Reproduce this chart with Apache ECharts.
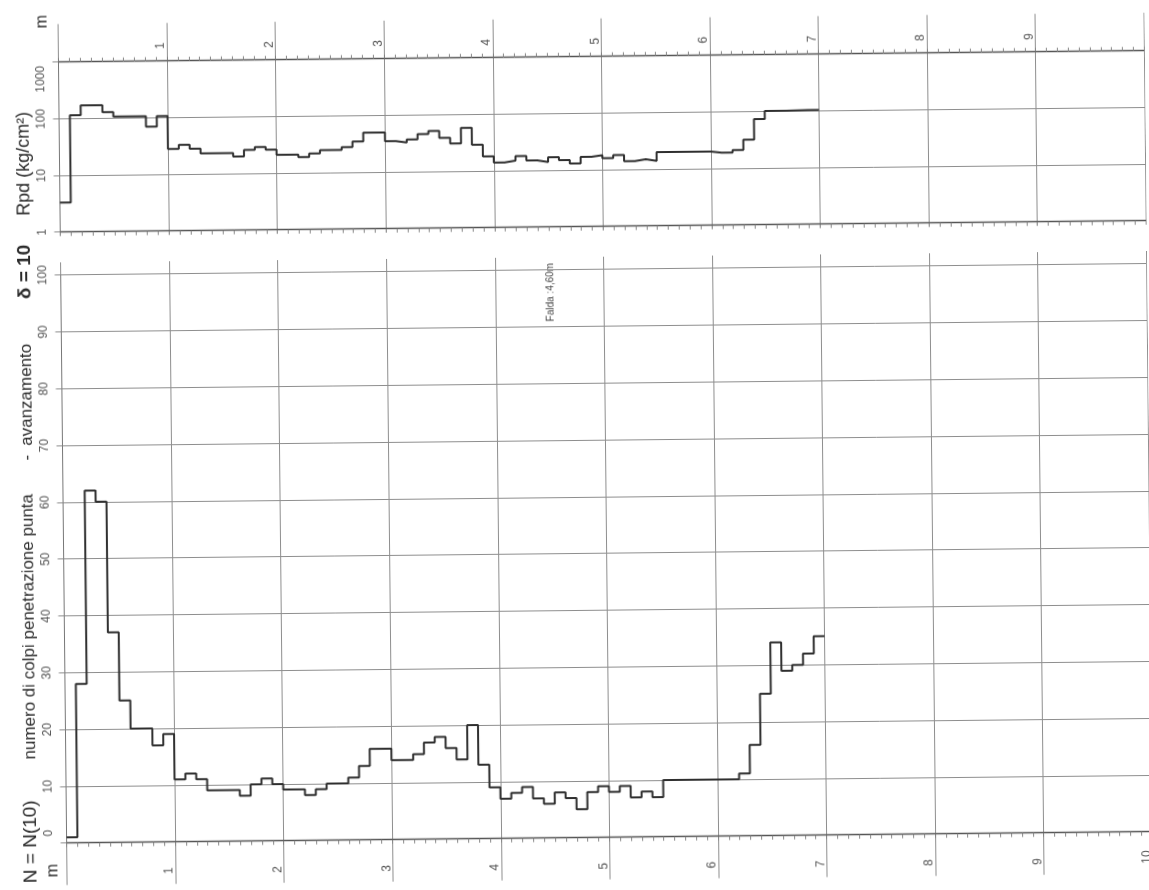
<!DOCTYPE html>
<html>
<head>
<meta charset="utf-8">
<title>Prova penetrometrica dinamica</title>
<script src="https://cdn.jsdelivr.net/npm/echarts@6/dist/echarts.min.js"></script>
<style>
html,body{margin:0;padding:0;background:#fff;}
#chart{width:1149px;height:890px;transform:rotate(-0.6deg);}
</style>
</head>
<body>
<div id="chart"></div>
<script>
// passo di lettura 0.1 m (avanzamento delta = 10 cm)
const stepM = 0.1
const depthRange = [0, 10]

// N(10) per ogni tratto da 0.0 a 7.0 m
const nBlows = [
  1, 28, 62, 60, 37, 25, 20, 20, 17, 19,
  11, 12, 11, 9, 9, 9, 8, 10, 11, 10,
  9, 9, 8, 9, 10, 10, 11, 13, 16, 16,
  14, 14, 15, 17, 18, 16, 14, 20, 13, 9,
  7, 8, 9, 7, 6, 8, 7, 5, 8, 9,
  8, 9, 7, 8, 7, 10, 10, 10, 10, 10,
  10, 10, 11, 16, 25, 34, 29, 30, 32, 35
]

// Rpd (kg/cm2) per ogni tratto
const rpd = [
  3.3, 115, 170, 170, 128, 107, 107, 107, 70, 107,
  28, 33, 28, 23, 23, 23, 20, 26, 29, 26,
  21, 21, 19, 22, 25, 25, 28, 35, 50, 50,
  35, 33, 37, 46, 52, 39, 31, 58, 29, 18,
  14, 15, 18, 15, 14, 17, 15, 13, 17, 18,
  16, 18, 14, 15, 14, 20, 20, 20, 20, 20,
  19, 19, 21, 32, 73, 102, 102, 103, 104, 104
]

const falda = 'Falda :4,60m'

function stepData(vals) {
  const pts = vals.map((v, i) => [+(i * stepM).toFixed(1), v])
  pts.push([+(vals.length * stepM).toFixed(1), vals[vals.length - 1]])
  return pts
}

const X0 = 62.5, W = 1085.7
const gridLine = {show: true, lineStyle: {color: '#8e8e8e', width: 1}}
const labelFont = {fontSize: 12, color: '#555', fontFamily: 'Liberation Sans'}

function depthAxis(gridIndex, extra) {
  return Object.assign({
    type: 'value', gridIndex: gridIndex, min: depthRange[0], max: depthRange[1], interval: 1,
    axisLine: {show: false}, axisTick: {show: false}, axisLabel: {show: false},
    splitLine: gridLine
  }, extra)
}

const baseLine = {show: true, onZero: false, lineStyle: {color: '#555', width: 1.3}}
const ticksOut = {show: true, length: 4, lineStyle: {color: '#777'}}
const minor = {show: true, splitNumber: 10, length: 4, lineStyle: {color: '#888'}}

function txt(x, y, text, size, extra) {
  return {
    type: 'text', x: x, y: y, rotation: Math.PI / 2, silent: true,
    style: Object.assign({
      text: text, fontSize: size, fontFamily: 'Liberation Sans', fill: '#2a2a2a',
      align: 'center', verticalAlign: 'middle'
    }, extra)
  }
}

const chart = echarts.init(document.getElementById('chart'))
chart.setOption({
  animation: false,
  backgroundColor: '#fff',
  grid: [
    {left: X0, top: 56.7, width: W, height: 170},    // Rpd
    {left: X0, top: 269.6, width: W, height: 568.1}, // N
    {left: X0, top: 18.7, width: W, height: 38},     // sopra Rpd
    {left: X0, top: 257, width: W, height: 12.6},    // sopra N
    {left: X0, top: 837.7, width: W, height: 42}     // sotto N
  ],
  xAxis: [
    depthAxis(0, {axisLine: baseLine, axisTick: ticksOut, minorTick: minor}),
    depthAxis(1, {axisLine: baseLine, axisTick: ticksOut, minorTick: minor}),
    depthAxis(2, {
      axisLine: baseLine,
      axisTick: {show: true, inside: true, length: 4, lineStyle: {color: '#777'}},
      minorTick: minor,
      axisLabel: Object.assign({
        show: true, inside: true, rotate: 90, margin: 12, verticalAlign: 'bottom',
        formatter: v => (v === 0 || v === 10) ? '' : String(v)
      }, labelFont)
    }),
    depthAxis(3, {}),
    depthAxis(4, {
      axisLabel: Object.assign({
        show: true, inside: true, rotate: 90, margin: 10, verticalAlign: 'bottom',
        formatter: v => v === 0 ? '' : String(v)
      }, labelFont)
    })
  ],
  yAxis: [
    {
      type: 'log', logBase: 10, gridIndex: 0, min: 1, max: 1000,
      axisLine: {show: true, lineStyle: {color: '#777'}},
      axisTick: {show: true, length: 6, lineStyle: {color: '#8e8e8e'}},
      axisLabel: Object.assign({
        rotate: 90, margin: 12,
        formatter: v => Math.round(v) === 1000 ? '{top|1000}' : String(Math.round(v)),
        rich: {top: {padding: [0, 34, 0, 0], fontSize: 12, color: '#555'}}
      }, labelFont),
      splitLine: gridLine
    },
    {
      type: 'value', gridIndex: 1, min: 0, max: 100, interval: 10,
      axisLine: {show: true, lineStyle: {color: '#777'}},
      axisTick: {show: true, length: 6, lineStyle: {color: '#8e8e8e'}},
      axisLabel: Object.assign({
        rotate: 90, margin: 12,
        formatter: v => v === 0 ? '{low|0}' : String(v),
        rich: {low: {padding: [0, 0, 0, 20], fontSize: 12, color: '#555'}}
      }, labelFont),
      splitLine: gridLine
    },
    {type: 'value', gridIndex: 2, show: false},
    {type: 'value', gridIndex: 3, show: false},
    {type: 'value', gridIndex: 4, show: false}
  ],
  series: [
    {
      type: 'line', xAxisIndex: 0, yAxisIndex: 0, step: 'end', symbol: 'none',
      data: stepData(rpd), lineStyle: {color: '#2f2f2f', width: 2}, z: 5
    },
    {
      type: 'line', xAxisIndex: 1, yAxisIndex: 1, step: 'end', symbol: 'none',
      data: stepData(nBlows), lineStyle: {color: '#2f2f2f', width: 2}, z: 5
    }
  ],
  graphic: [
    txt(27, 836, 'N = N(10)', 19),
    txt(27, 621, 'numero di colpi penetrazione punta', 17),
    txt(27, 452, '-', 17),
    txt(27, 389, 'avanzamento', 17),
    txt(27, 266, 'δ = 10', 19, {fontWeight: 'bold'}),
    txt(27, 158, 'Rpd (kg/cm²)', 18),
    txt(47, 16, 'm', 16),
    txt(49, 865, 'm', 16),
    txt(552, 292, falda, 10, {fill: '#444'})
  ]
})
</script>
</body>
</html>
